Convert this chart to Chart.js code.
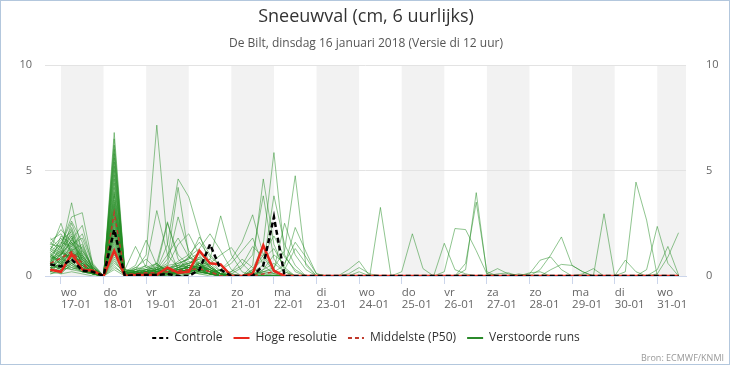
<!DOCTYPE html>
<html>
<head>
<meta charset="utf-8">
<script src="https://cdn.jsdelivr.net/npm/chart.js@4/dist/chart.umd.min.js"></script>
<style>
  html, body { margin: 0; padding: 0; background: #fff; }
  canvas { display: block; }
</style>
</head>
<body>
<canvas id="sneeuw" width="732" height="366"></canvas>
<script>
// 6-uurlijkse stappen: stap 0 = 16-01 18 uur, stap 1 = 17-01 00 uur, ... stap 59 = 31-01 12 uur
const dayNames = ["wo", "do", "vr", "za", "zo", "ma", "di", "wo", "do", "vr", "za", "zo", "ma", "di", "wo"];
const dayDates = ["17-01", "18-01", "19-01", "20-01", "21-01", "22-01", "23-01", "24-01",
  "25-01", "26-01", "27-01", "28-01", "29-01", "30-01", "31-01"];
const firstDayStep = 1;
const stepsPerDay = 4;

const controle = [0.55,0.45,0.8,0.25,0.2,0, 2.2, 0,0.05,0.05,0.05,0.1,0, 0,0.3,1.5,0.3,0, 0,0,0.5,2.8,0,0,0,
  0,0,0,0,0, 0,0,0,0,0, 0,0,0,0,0, 0,0,0,0,0, 0,0,0,0,0, 0,0,0,0,0, 0,0,0,0,0];
const hogeResolutie = [0.3,0.2,1.05,0.3,0.25,0, 1.2, 0,0.05,0.05,0.05,0.4,0.15, 0.2,1.2,0.6,0.55,0, 0,0.1,1.45,0.25,0,0,0,
  0,0,0,0,0, 0,0,0,0,0, 0,0,0,0,0, 0,0,0,0,0, 0,0,0,0,0, 0,0,0,0,0, 0,0,0,0,0];
const middelste = [0.6,0.85,1.15,0.6,0.2,0, 3.0, 0.1,0.1,0.15,0.15,0.2,0.25, 0.3,0.35,0.2,0,0, 0,0,0.1,0.2,0.05,0,0,
  0,0,0,0,0, 0,0,0,0,0, 0,0,0,0,0, 0,0,0,0,0, 0,0,0,0,0, 0,0,0,0,0, 0,0,0,0,0];

const verstoordeRuns = [
  [0.8,1.2,3.47,1.0,0.3,0, 6.8, 0.2,0.1,0,0.1,0.2,0.1, 0.2,0.3,0.1,0,0, 0,0,0,0,0,0,0, 0,0,0,0.3,0.7, 0,0,0,0,0, 0,0,0,0,0, 0,0,0,0,0, 0,0,0,0,0, 0,0,0,0,0, 0,0,0,0,0],
  [1.0,1.5,2.8,3.0,0.5,0, 6.5, 0.1,0.3,0.2,0.1,0.3,0.5, 0.4,0.2,0.1,0,0, 0,0,0,0,0,0,0, 0,0,0,0.1,0.4, 0.1,0,0,0,0, 0,0,0,0,0, 0,0,0,0,0, 0,0,0,0,0, 0,0,0,0,0, 0,0,0,0,0],
  [1.2,2.5,1.0,0.6,0.2,0, 6.2, 0,0.1,0.1,0.2,0.1,0, 0.1,0.5,0.3,0,0, 0,0.2,0.1,0,0,0,0, 0,0,0,0,0, 0,3.25,0,0,0, 0,0,0,0,0, 0,0,0,0,0, 0,0,0,0,0, 0,0,0,0,0, 0,0,0,0,0],
  [1.5,2.2,1.6,0.8,0.3,0, 6.0, 0.3,0.2,0.4,0.3,0.2,0.4, 0.6,0.8,0.3,0.1,0, 0,0,0,0,0,0,0, 0,0,0,0,0, 0,0,0,0.2,2.0, 0.35,0,0,0,0, 0,0,0,0,0, 0,0,0,0,0, 0,0,0,0,0, 0,0,0,0,0],
  [0.6,1.0,2.5,1.2,0.4,0, 5.8, 0.1,0,0.1,0,0.1,0.2, 0.3,0.9,0.4,0.1,0, 0,0,0,0,0,0,0, 0,0,0,0,0, 0,0,0,0,0, 0,0,1.55,0.3,0.1, 0,0,0,0,0, 0,0,0,0,0, 0,0,0,0,0, 0,0,0,0,0],
  [0.4,0.9,2.2,0.8,0.2,0, 5.6, 0.2,0.1,0.2,0.5,0.3,0.2, 0.5,0.4,0.2,0,0, 0,0,0,0,0,0,0, 0,0,0,0,0, 0,0,0,0,0, 0,0,0.2,2.25,2.2, 1.2,0.1,0,0,0, 0,0,0,0,0, 0,0,0,0,0, 0,0,0,0,0],
  [1.8,1.3,1.9,0.5,0.1,0, 5.4, 0,0.2,0.3,0.1,0.4,0.3, 0.9,0.6,0.2,0,0, 0,0.1,0.2,0.1,0,0,0, 0,0,0,0,0, 0,0,0,0,0, 0,0,0,0,0.3, 3.95,0.1,0.35,0.1,0, 0,0,0,0,0, 0,0,0,0,0, 0,0,0,0,0],
  [0.9,1.6,1.4,2.0,0.6,0, 5.2, 0.1,0.2,0.1,0.3,0.2,0.1, 0.3,0.7,0.5,0.1,0, 0,0,0,0,0,0,0, 0,0,0,0,0, 0,0,0,0,0, 0,0,0,0,0.6, 3.5,0.2,0,0,0, 0,0,0,0,0, 0,0,0,0,0, 0,0,0,0,0],
  [0.5,0.7,1.8,0.5,0.2,0, 5.0, 0,0.1,0.2,0.1,0,0.2, 0.2,0.4,0.8,0.2,0, 0,0,0,0,0,0,0, 0,0,0,0,0, 0,0,0,0,0, 0,0,0,0,0, 0,0,0,0,0, 0.1,0.75,0.9,0.3,0, 0,0,0,0,0, 0,0,0,0,0],
  [1.1,0.5,1.2,1.5,0.3,0, 4.8, 0.2,0.4,0.3,0.2,0.5,0.6, 0.8,1.1,0.6,0.2,0, 0,0,0,0,0,0,0, 0,0,0,0,0, 0,0,0,0,0, 0,0,0,0,0, 0,0,0,0,0, 0,0.3,1.0,1.85,0.5, 0.2,0,0,0,0, 0,0,0,0,0],
  [0.3,0.6,1.6,0.9,0.2,0, 4.6, 0.1,0,0.1,0.2,0.1,0.3, 0.4,0.3,0.1,0,0, 0,0,0,0,0,0,0, 0,0,0,0,0, 0,0,0,0,0, 0,0,0,0,0, 0,0,0,0,0, 0,0,0.3,0.55,0.5, 0.2,0,0,0,0, 0,0,0,0,0],
  [0.7,1.1,0.8,0.4,0.1,0, 4.4, 0.3,0.2,0.1,0.4,0.2,0.1, 0.2,0.6,0.3,0.1,0, 0,0,0,0,0,0,0, 0,0,0,0,0, 0,0,0,0,0, 0,0,0,0,0, 0,0,0,0,0, 0,0,0,0,0, 0.1,0.35,0,0,0, 0,0,0,0,0],
  [0.2,0.4,1.3,0.6,0.3,0, 4.2, 0,0.1,0,0.1,0.3,0.2, 0.1,0.2,0.1,0,0, 0,0,0,0,0,0,0, 0,0,0,0,0, 0,0,0,0,0, 0,0,0,0,0, 0,0,0,0,0, 0,0,0,0,0, 0,0,2.95,0,0, 0,0,0,0,0],
  [1.3,1.8,1.1,0.3,0.1,0, 4.0, 0.2,0.3,0.5,0.2,0.1,0.4, 0.7,0.5,0.2,0,0, 0,0,0,0,0,0,0, 0,0,0,0,0, 0,0,0,0,0, 0,0,0,0,0, 0,0,0,0,0, 0,0,0,0,0, 0,0,0,0,0.75, 0.2,0,0,0,0],
  [0.6,0.3,0.9,1.1,0.4,0, 3.9, 0.1,0.2,0.1,0,0.2,0.3, 0.5,1.2,0.4,0.1,0, 0,0,0,0,0,0,0, 0,0,0,0,0, 0,0,0,0,0, 0,0,0,0,0, 0,0,0,0,0, 0,0,0,0,0, 0,0,0,0,0.2, 4.45,2.65,0,0,0],
  [0.1,0.2,0.7,0.5,0.2,0, 3.8, 0,0,0.1,0.1,0,0.1, 0.2,0.1,0,0,0, 0,0,0,0,0,0,0, 0,0,0,0,0, 0,0,0,0,0, 0,0,0,0,0, 0,0,0,0,0, 0,0,0,0,0, 0,0,0,0,0, 0,0.3,2.35,0.6,0],
  [0.9,1.4,2.0,0.7,0.1,0, 3.6, 0.2,0.1,0.3,0.6,0.2,0.4, 0.6,0.9,0.5,0.1,0, 0,0,0,0,0,0,0, 0,0,0,0,0, 0,0,0,0,0, 0,0,0,0,0, 0,0,0,0,0, 0,0,0,0,0, 0,0,0,0,0, 0,0,0.3,1.4,0.05],
  [0.4,0.8,0.6,0.2,0.1,0, 3.5, 0,0.1,0.1,0,0.1,0.2, 0.3,0.2,0.1,0,0, 0,0,0,0,0,0,0, 0,0,0,0,0, 0,0,0,0,0, 0,0,0,0,0, 0,0,0,0,0, 0,0,0,0,0, 0,0,0,0,0, 0,0,0.1,0.9,2.05],
  [1.6,1.2,0.7,0.3,0.2,0, 3.4, 0.1,0.2,0.2,0.3,0.2,0.3, 0.4,0.3,0.2,0.3,0.8, 1.6,2.9,1.0,0.3,0,0,0, 0,0,0,0,0, 0,0,0,0,0, 0,0,0,0,0, 0,0,0.1,0.15,0, 0,0,0,0,0, 0,0,0,0,0, 0,0,0,0,0],
  [0.5,0.5,1.5,1.8,0.5,0, 3.3, 0.1,0,0.1,0.2,0.1,0.2, 0.3,0.5,0.2,0,0, 0,0.5,4.6,1.5,0.3,0,0, 0,0,0,0,0, 0,0,0,0,0, 0,0,0,0,0, 0,0,0,0,0.1, 0,0,0,0,0, 0,0,0,0,0, 0,0,0,0,0],
  [0.3,0.2,0.5,0.3,0.1,0, 3.2, 0,0.1,0.2,0.1,0.1,0, 0.1,0.2,0.1,0,0.1, 0.4,1.0,3.8,0.8,0.2,0,0, 0,0,0,0,0.2, 0,0,0,0,0, 0,0,0,0,0, 0,0,0,0,0, 0,0,0,0,0, 0,0,0,0,0, 0,0,0,0,0],
  [0.8,1.0,1.7,1.3,0.3,0, 3.1, 0.3,0.2,0.1,0.3,0.4,0.2, 0.5,0.4,0.3,0.1,0, 0,0.3,1.5,5.85,1.0,0.2,0, 0,0,0,0,0, 0,0,0,0,0, 0,0,0,0,0, 0,0,0,0,0, 0.15,0.2,0,0,0, 0,0,0,0,0, 0,0,0,0,0],
  [1.0,0.7,0.4,0.2,0.1,0, 3.0, 0.1,0.1,0,0.2,0.1,0.3, 0.2,0.6,0.4,0.1,0, 0,0.2,0.5,3.8,1.5,0.5,0, 0,0,0,0,0, 0,0,0,0,0, 0,0,0,0,0, 0,0,0,0,0, 0,0,0,0,0, 0,0,0,0,0, 0,0,0,0,0],
  [0.2,0.6,1.2,0.4,0.2,0, 2.9, 0,0.2,0.1,0.1,0.2,0.1, 0.3,0.2,0.1,0,0, 0,0,0.2,0.4,1.2,4.75,0.5, 0,0,0,0,0, 0,0,0,0,0, 0,0,0,0,0, 0,0,0,0,0, 0,0,0,0,0, 0,0,0,0,0, 0,0,0,0,0],
  [0.6,1.9,1.5,0.6,0.2,0, 2.8, 0.2,0.1,0.3,0.2,0.3,0.5, 0.6,0.8,0.4,0.1,0, 0,0.1,0.2,0.3,2.5,1.0,0.3, 0,0,0,0,0, 0,0,0,0,0, 0,0,0,0,0, 0,0,0,0,0, 0,0,0,0,0, 0,0,0,0,0, 0,0,0,0,0],
  [1.4,1.1,0.9,0.7,0.3,0, 2.7, 0.1,0.1,0.2,0.1,0,0.2, 0.3,0.4,0.2,0,0, 0,0,0.1,0.2,0.5,2.3,1.15, 0.1,0,0,0,0, 0,0,0,0,0, 0,0,0,0,0, 0,0,0,0,0, 0,0,0,0,0, 0,0,0,0,0, 0,0,0,0,0],
  [0.4,0.4,0.3,0.2,0.1,0, 2.6, 0,0.1,0,0.1,0.1,0.1, 0.2,0.1,0.1,0.3,0.6, 1.2,1.8,0.5,0.1,0,0,0, 0,0,0,0,0, 0,0,0,0,0, 0,0,0,0,0, 0,0,0,0,0, 0,0,0,0,0, 0,0,0,0,0, 0,0,0,0,0],
  [0.7,1.3,2.3,1.0,0.3,0, 2.5, 0.2,0.3,0.2,0.4,0.3,0.2, 0.5,0.3,0.2,0.1,0.2, 0.5,1.4,0.9,0.2,0,0,0, 0,0,0,0,0, 0,0,0,0,0, 0,0,0,0,0, 0,0,0,0,0, 0,0,0,0,0, 0,0,0,0,0, 0,0,0,0,0],
  [0.2,0.1,0.6,0.9,0.4,0, 2.4, 0.1,0,0.1,0.2,0.1,0.2, 0.3,0.2,0.1,0,0, 0,0.2,1.0,1.9,0.9,0.3,0, 0,0,0,0,0, 0,0,0,0,0, 0,0,0,0,0, 0,0,0,0,0, 0,0,0,0,0, 0,0,0,0,0, 0,0,0,0,0],
  [1.2,0.9,1.0,0.5,0.2,0, 2.3, 0.2,0.1,0.2,0.1,0.2,0.3, 0.4,0.5,0.3,0.1,0, 0,0,0.3,1.0,0.6,1.6,0.9, 0.1,0,0,0,0, 0,0,0,0,0, 0,0,0,0,0, 0,0,0,0,0, 0,0,0,0,0, 0,0,0,0,0, 0,0,0,0,0],
  [0.5,1.5,2.6,1.6,0.3,0, 2.2, 0,0.2,0.1,0.2,0.1,0.1, 0.2,0.3,0.2,0,0, 0,0.3,0.8,1.3,0.4,0,0, 0,0,0,0,0, 0,0,0,0,0, 0,0,0,0,0, 0,0,0,0,0, 0,0,0,0,0, 0,0,0,0,0, 0,0,0,0,0],
  [0.1,0.3,0.4,0.3,0.1,0, 2.1, 0.1,0,0.1,0,0.2,0.1, 0.1,0.2,0.1,0.1,0.2, 0.8,0.4,0,0,0,0,0, 0,0,0,0,0, 0,0,0,0,0, 0,0,0,0,0, 0,0,0,0,0, 0,0,0,0,0, 0,0,0,0,0, 0,0,0,0,0],
  [0.9,0.6,1.1,0.8,0.2,0, 2.0, 0.1,0.2,0.1,0.3,0.2,0.2, 0.3,0.4,0.2,0,0, 0,0,0,0.1,0.3,1.3,0.6, 0,0,0,0,0, 0,0,0,0,0, 0,0,0,0,0, 0,0,0,0,0, 0,0,0,0,0, 0,0,0,0,0, 0,0,0,0,0],
  [0.3,0.8,1.4,0.6,0.4,0, 1.9, 0,0.1,0.2,0.1,0.1,0.2, 0.2,0.3,0.1,0,0, 0,0,0.3,0.6,0.2,0,0, 0,0,0,0,0, 0,0,0,0,0, 0,0,0,0,0, 0,0,0,0,0, 0,0,0,0,0, 0,0,0,0,0, 0,0,0,0,0],
  [1.7,2.0,1.2,0.5,0.1,0, 1.8, 0.1,0.3,1.0,7.15,1.5,0.3, 0.4,0.3,0.2,0,0, 0,0,0,0,0,0,0, 0,0,0,0,0, 0,0,0,0,0, 0,0,0,0,0, 0,0,0,0,0, 0,0,0,0,0, 0,0,0,0,0, 0,0,0,0,0],
  [0.6,1.2,0.8,1.4,0.3,0, 1.7, 0,0.2,0.5,3.1,1.0,0.4, 0.3,0.5,0.2,0,0, 0,0,0,0,0,0,0, 0,0,0,0,0, 0,0,0,0,0, 0,0,0,0,0, 0,0,0,0,0, 0,0,0,0,0, 0,0,0,0,0, 0,0,0,0,0],
  [0.4,0.5,1.0,0.4,0.2,0, 1.6, 0.1,0.1,0.2,0.6,2.57,0.8, 0.3,0.4,0.2,0,0, 0,0,0,0,0,0,0, 0,0,0,0,0, 0,0,0,0,0, 0,0,0,0,0, 0,0,0,0,0, 0,0,0,0,0, 0,0,0,0,0, 0,0,0,0,0],
  [1.1,1.7,2.1,0.9,0.2,0, 1.5, 0,0.1,0.2,0.3,1.5,4.6, 3.75,2.0,0.5,0.1,0, 0,0,0,0,0,0,0, 0,0,0,0,0, 0,0,0,0,0, 0,0,0,0,0, 0,0,0,0,0, 0,0,0,0,0, 0,0,0,0,0, 0,0,0,0,0],
  [0.2,0.4,0.9,1.2,0.5,0, 1.4, 0.1,0.2,0.1,0.2,0.8,4.2, 1.0,0.5,0.3,0,0, 0,0,0,0,0,0,0, 0,0,0,0,0, 0,0,0,0,0, 0,0,0,0,0, 0,0,0,0,0, 0,0,0,0,0, 0,0,0,0,0, 0,0,0,0,0],
  [0.8,0.3,0.6,0.3,0.1,0, 1.3, 0.1,0.1,0.3,0.4,2.5,1.0, 0.5,0.3,0.1,0,0, 0,0,0,0,0,0,0, 0,0,0,0,0, 0,0,0,0,0, 0,0,0,0,0, 0,0,0,0,0, 0,0,0,0,0, 0,0,0,0,0, 0,0,0,0,0],
  [1.3,1.0,1.6,0.6,0.2,0, 1.2, 0,0.1,0.1,0.3,0.6,2.8, 1.2,0.6,0.3,0,0, 0,0,0,0,0,0,0, 0,0,0,0,0, 0,0,0,0,0, 0,0,0,0,0, 0,0,0,0,0, 0,0,0,0,0, 0,0,0,0,0, 0,0,0,0,0],
  [0.5,0.9,0.5,0.2,0.1,0, 1.1, 0.3,1.4,0.4,0.6,0.2,0.1, 0.2,0.3,0.1,0,0, 0,0,0,0,0,0,0, 0,0,0,0,0, 0,0,0,0,0, 0,0,0,0,0, 0,0,0,0,0, 0,0,0,0,0, 0,0,0,0,0, 0,0,0,0,0],
  [0.3,1.1,1.9,0.7,0.3,0, 1.0, 0.2,0.5,1.7,0.5,0.3,0.2, 0.3,0.6,0.2,0,0, 0,0,0,0,0,0,0, 0,0,0,0,0, 0,0,0,0,0, 0,0,0,0,0, 0,0,0,0,0, 0,0,0,0,0, 0,0,0,0,0, 0,0,0,0,0],
  [1.0,0.6,0.3,0.5,0.2,0, 0.9, 0.1,0.4,0.8,0.3,1.0,1.8, 0.9,0.5,0.2,0,0, 0,0,0,0,0,0,0, 0,0,0,0,0, 0,0,0,0,0, 0,0,0,0,0, 0,0,0,0,0, 0,0,0,0,0, 0,0,0,0,0, 0,0,0,0,0],
  [0.7,0.2,0.8,1.0,0.3,0, 0.8, 0,0.1,0.2,0.3,0.5,1.5, 2.0,1.0,0.4,0.1,0, 0,0,0,0,0,0,0, 0,0,0,0,0, 0,0,0,0,0, 0,0,0,0,0, 0,0,0,0,0, 0,0,0,0,0, 0,0,0,0,0, 0,0,0,0,0],
  [0.2,0.7,1.3,0.4,0.1,0, 0.7, 0.1,0.1,0.2,0.1,0.3,0.6, 0.8,1.85,1.0,0.5,0.1, 0,0,0,0,0,0,0, 0,0,0,0,0, 0,0,0,0,0, 0,0,0,0,0, 0,0,0,0,0, 0,0,0,0,0, 0,0,0,0,0, 0,0,0,0,0],
  [1.5,1.4,0.6,0.3,0.2,0, 0.6, 0.2,0.2,0.1,0.2,0.4,0.5, 0.9,1.3,2.0,1.2,0.3, 0,0,0,0,0,0,0, 0,0,0,0,0, 0,0,0,0,0, 0,0,0,0,0, 0,0,0,0,0, 0,0,0,0,0, 0,0,0,0,0, 0,0,0,0,0],
  [0.6,1.0,1.7,2.4,0.4,0, 0.5, 0,0.1,0.1,0.2,0.2,0.3, 0.4,0.6,0.8,2.85,1.0, 0.2,0,0,0,0,0,0, 0,0,0,0,0, 0,0,0,0,0, 0,0,0,0,0, 0,0,0,0,0, 0,0,0,0,0, 0,0,0,0,0, 0,0,0,0,0],
  [0.9,0.8,1.1,0.6,0.2,0, 0.4, 0.1,0.2,0.3,0.1,0.2,0.4, 0.5,0.4,0.6,1.0,1.35, 0.6,0.1,0,0,0,0,0, 0,0,0,0,0, 0,0,0,0,0, 0,0,0,0,0, 0,0,0,0,0, 0,0,0,0,0, 0,0,0,0,0, 0,0,0,0,0],
  [0.4,0.1,0.2,0.1,0,0, 0.3, 0,0.1,0.1,0.2,0.3,0.7, 1.0,1.6,0.9,0.5,0.1, 0,0,0,0,0,0,0, 0,0,0,0,0, 0,0,0,0,0, 0,0,0,0,0, 0,0,0,0,0, 0,0,0,0,0, 0,0,0,0,0, 0,0,0,0,0]
];

const bron = "Bron: ECMWF/KNMI";
const fontFamily = '"Open Sans", "DejaVu Sans", sans-serif';

Chart.defaults.font.family = fontFamily;
Chart.defaults.color = "#666";

const toPoints = values => values.map((v, i) => ({ x: i, y: v }));

const datasets = [
  { label: "Controle", data: toPoints(controle), borderColor: "#000", borderWidth: 2.5, borderDash: [5, 3], legendDash: [4, 3], order: 0 },
  { label: "Hoge resolutie", data: toPoints(hogeResolutie), borderColor: "#e8281c", borderWidth: 2.5, order: 1 },
  { label: "Middelste (P50)", data: toPoints(middelste), borderColor: "#c0392b", borderWidth: 1.5, borderDash: [4, 3], legendDash: [4, 3], order: 2 },
];
verstoordeRuns.forEach((run, n) => {
  datasets.push({
    label: "Verstoorde runs",
    data: toPoints(run),
    borderColor: "rgba(34,139,34,0.5)",
    legendColor: "#2b8a2b",
    borderWidth: 1,
    order: 3,
    inLegend: n === 0,
  });
});

// grijze dagbanden, bron-tekst en rand
const decor = {
  id: "decor",
  beforeDraw(chart) {
    const { ctx, chartArea, scales: { x } } = chart;
    ctx.save();
    ctx.fillStyle = "#f2f2f2";
    for (let k = 0; k < dayDates.length; k += 2) {
      const from = x.getPixelForValue(firstDayStep + k * stepsPerDay);
      const to = Math.min(x.getPixelForValue(firstDayStep + (k + 1) * stepsPerDay), chartArea.right);
      ctx.fillRect(from, chartArea.top, to - from, chartArea.bottom - chartArea.top);
    }
    ctx.restore();
  },
  afterDraw(chart) {
    const { ctx } = chart;
    ctx.save();
    ctx.strokeStyle = "#b3c7dd";
    ctx.lineWidth = 1;
    ctx.strokeRect(0.5, 0.5, 729, 364);
    ctx.fillStyle = "#999";
    ctx.font = "9px " + fontFamily;
    ctx.textAlign = "right";
    ctx.textBaseline = "middle";
    ctx.fillText(bron, 724, 358);
    ctx.restore();
  }
};

new Chart(document.getElementById("sneeuw").getContext("2d"), {
  type: "line",
  data: { datasets: datasets },
  options: {
    responsive: false,
    animation: false,
    devicePixelRatio: 1,
    events: [],
    layout: { padding: { top: 0, bottom: 12, left: 0, right: 0 } },
    elements: {
      line: { tension: 0, fill: false },
      point: { radius: 0 },
    },
    scales: {
      x: {
        type: "linear",
        min: -0.5,
        max: 59.7,
        afterBuildTicks: scale => {
          scale.ticks = dayDates.map((d, k) => ({ value: firstDayStep + k * stepsPerDay }));
        },
        afterFit: scale => { scale.height = 45; },
        ticks: {
          align: "start",
          autoSkip: false,
          maxRotation: 0,
          padding: 3,
          color: "#666",
          font: { size: 11.5, lineHeight: 1.05 },
          callback: (value, k) => [dayNames[k], dayDates[k]],
        },
        grid: { drawOnChartArea: false, drawTicks: true, tickLength: 8, color: "#ccd6eb" },
        border: { display: true, color: "#ccd6eb" },
      },
      y: {
        position: "left",
        min: 0,
        max: 10,
        afterFit: scale => { scale.width = 45; },
        ticks: { stepSize: 5, padding: 13, color: "#666", font: { size: 11 } },
        grid: { color: "#e3e3e3", drawTicks: false },
        border: { display: false },
      },
      y2: {
        position: "right",
        min: 0,
        max: 10,
        afterFit: scale => { scale.width = 46; },
        ticks: { stepSize: 5, padding: 12, color: "#666", font: { size: 11 } },
        grid: { display: false },
        border: { display: false },
      },
    },
    plugins: {
      title: {
        display: true,
        text: "Sneeuwval (cm, 6 uurlijks)",
        color: "#333",
        font: { size: 18, weight: "normal", lineHeight: 1.2 },
        padding: { top: 6, bottom: 0 },
      },
      subtitle: {
        display: true,
        text: "De Bilt, dinsdag 16 januari 2018 (Versie di 12 uur)",
        color: "#555",
        font: { size: 12, lineHeight: 1.2 },
        padding: { top: 9, bottom: 14 },
      },
      legend: {
        position: "bottom",
        labels: {
          usePointStyle: true,
          pointStyle: "line",
          pointStyleWidth: 16,
          padding: 11,
          color: "#333",
          font: { size: 12 },
          filter: (item, data) => data.datasets[item.datasetIndex].inLegend !== false,
          generateLabels: chart => {
            const items = Chart.defaults.plugins.legend.labels.generateLabels(chart);
            items.forEach(item => {
              const ds = chart.data.datasets[item.datasetIndex];
              if (ds.legendColor) item.strokeStyle = ds.legendColor;
              item.lineDash = ds.legendDash || [];
              item.lineWidth = 2;
            });
            return items;
          },
        },
      },
      tooltip: { enabled: false },
    },
  },
  plugins: [decor],
});
</script>
</body>
</html>
